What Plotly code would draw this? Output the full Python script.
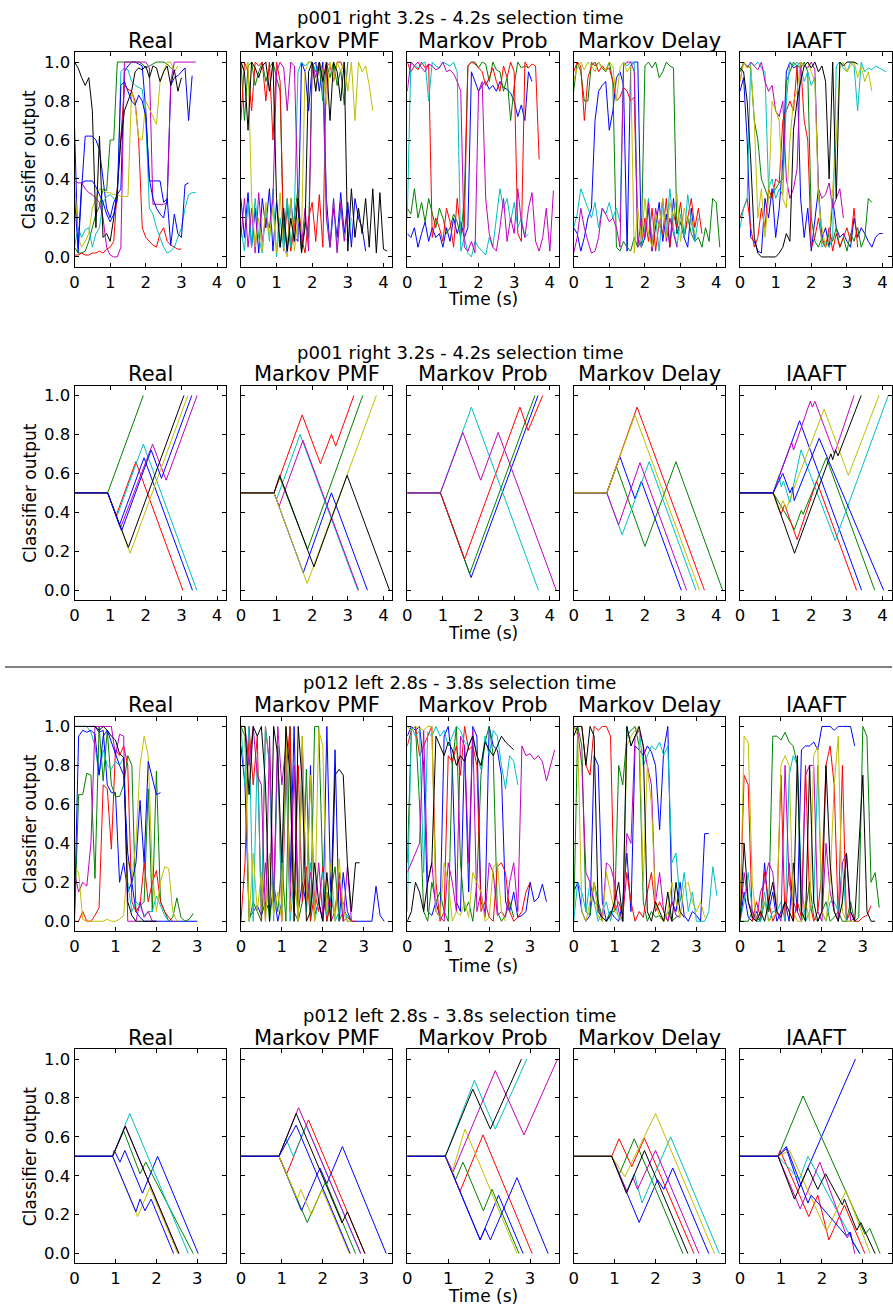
import numpy as np
import plotly.graph_objects as go

W, H = 893, 1306
FONT = "DejaVu Sans"
COLORS = {"b": "#0000ff", "g": "#008000", "r": "#ff0000", "c": "#00bfbf",
          "m": "#bf00bf", "y": "#bfbf00", "k": "#000000"}
COL_TITLES = ["Real", "Markov PMF", "Markov Prob", "Markov Delay", "IAAFT"]
ROW_TITLES = ["p001 right 3.2s - 4.2s selection time",
              "p001 right 3.2s - 4.2s selection time",
              "p012 left 2.8s - 3.8s selection time",
              "p012 left 2.8s - 3.8s selection time"]
X_TICKS = [[0, 1, 2, 3, 4], [0, 1, 2, 3, 4], [0, 1, 2, 3], [0, 1, 2, 3]]
X_MAX = [4.25, 4.25, 3.7, 3.7]
Y_TICKS = [0.0, 0.2, 0.4, 0.6, 0.8, 1.0]
DT = 0.1  # sampling step (s) of the classifier-output series; values in percent

# ---------------- Row 1: p001 classifier output (percent) ----------------
R1_REAL = [
    ("b", [67, 2, 35, 62, 62, 62, 60, 55, 40, 25, 20, 28, 32, 35, 95, 98, 100, 100, 99, 98, 75, 39, 39, 39, 39, 28, 30, 88, 92, 93, 95, 97, 70, 93]),
    ("g", [5, 2, 2, 3, 8, 15, 22, 26, 35, 34, 60, 60, 100, 100, 100, 100, 100, 100, 100, 99, 97, 98, 99, 100, 100, 100, 99, 97, 96]),
    ("r", [1, 1, 2, 1, 1, 2, 2, 3, 2, 4, 5, 8, 35, 62, 88, 86, 85, 80, 60, 15, 10, 8, 6, 5, 12, 15, 8, 6, 5, 4, 4]),
    ("c", [5, 15, 10, 14, 15, 5, 12, 15, 28, 31, 32, 30, 28, 95, 97, 96, 90, 88, 87, 86, 70, 25, 22, 15, 10, 5, 2, 3, 5, 10, 15, 25, 32, 33, 33]),
    ("m", [39, 38, 38, 35, 33, 32, 30, 28, 20, 5, 1, 0, 0, 5, 100, 100, 100, 100, 100, 100, 100, 97, 27, 27, 27, 27, 28, 90, 100, 100, 100, 100, 100, 100, 100]),
    ("y", [40, 10, 5, 8, 12, 25, 30, 35, 34, 33, 33, 32, 32, 31, 31, 31, 85, 78, 61, 60, 80, 76, 72, 68, 90, 95, 100, 100, 95, 98]),
    ("k", [100, 97, 92, 88, 92, 75, 15, 62, 10, 12, 8, 20, 35, 60, 75, 80, 85, 95, 97, 96, 98, 92, 98, 97, 90, 95, 98, 88, 96, 85, 92]),
    ("b", [30, 5, 38, 39, 39, 39, 36, 32, 28, 22, 18, 22, 30, 88, 90, 85, 80, 78, 83, 80, 72, 40, 30, 25, 22, 20, 30, 6, 22, 12, 10, 37, 38]),
]
R1_PMF = [
    ("b", [30, 10, 33, 5, 25, 2, 30, 15, 35, 3, 28, 5, 20, 2, 30, 10, 8, 100, 95, 75, 98, 100, 85, 100, 30, 5, 25, 10, 33, 12, 28, 5, 30, 20, 15, 3]),
    ("g", [100, 70, 98, 100, 88, 95, 100, 90, 97, 100, 92, 85, 8, 30, 5, 20, 35, 3, 18, 10, 100, 95, 98, 80, 100, 92, 100, 88, 96, 78, 100]),
    ("r", [70, 100, 95, 75, 100, 98, 100, 80, 100, 60, 100, 90, 5, 25, 3, 15, 30, 10, 2, 20, 28, 8, 32, 5, 100, 98, 90, 100, 100, 95]),
    ("c", [15, 3, 28, 5, 30, 10, 2, 25, 8, 35, 0, 20, 3, 30, 5, 22, 95, 100, 98, 100, 100, 95, 100, 88, 20, 5, 30, 3, 25, 10, 8, 20]),
    ("m", [10, 30, 5, 25, 2, 33, 8, 20, 15, 30, 95, 100, 97, 75, 100, 98, 30, 5, 25, 3, 100, 92, 100, 96, 20, 5, 30, 2, 28, 8, 25]),
    ("y", [100, 95, 100, 30, 5, 20, 3, 28, 10, 25, 2, 33, 5, 0, 30, 3, 20, 12, 95, 100, 100, 85, 100, 95, 78, 100, 90, 100, 95, 100, 85, 100, 70, 100, 95, 98, 88, 75]),
    ("k", [100, 95, 65, 100, 97, 92, 98, 100, 85, 100, 30, 5, 25, 3, 20, 8, 30, 2, 15, 95, 100, 85, 100, 90, 100, 70, 100, 95, 80, 100, 3, 35, 10, 25, 12, 30, 5, 35, 2, 33, 4, 3]),
]
R1_PROB = [
    ("b", [12, 10, 15, 5, 12, 18, 8, 15, 10, 12, 5, 15, 8, 20, 12, 18, 10, 15, 95, 90, 85, 88, 90, 86, 88, 85, 90, 87, 86, 84, 80, 72, 78, 70, 95, 90]),
    ("g", [25, 22, 35, 20, 28, 18, 30, 22, 15, 25, 20, 12, 15, 22, 18, 10, 30, 98, 100, 100, 97, 100, 99, 90, 100, 96, 95, 85, 92, 70, 88, 100, 97, 98, 97]),
    ("r", [100, 95, 98, 96, 100, 97, 99, 10, 20, 15, 8, 25, 18, 5, 30, 12, 15, 98, 100, 99, 97, 95, 88, 92, 97, 90, 85, 98, 92, 100, 95, 12, 8, 100, 97, 99, 98, 50]),
    ("c", [20, 100, 98, 97, 99, 100, 80, 100, 98, 97, 100, 99, 98, 100, 95, 3, 10, 2, 0, 8, 5, 3, 1, 10, 5, 20, 35, 25, 30, 18, 28, 15, 20, 10, 12]),
    ("m", [85, 100, 98, 100, 97, 95, 99, 98, 96, 97, 100, 95, 96, 94, 90, 85, 5, 3, 8, 2, 85, 90, 30, 12, 5, 3, 15, 30, 8, 20, 12, 35, 18, 10, 25, 33, 8, 3, 10, 25, 3, 34]),
]
R1_DELAY = [
    ("b", [15, 12, 3, 10, 20, 25, 70, 85, 88, 90, 65, 75, 92, 95, 88, 3, 98, 100, 100, 5, 10, 25, 3, 15, 28, 8, 22, 5, 30, 12, 18, 10, 5, 25, 8]),
    ("g", [85, 100, 95, 80, 80, 100, 98, 100, 97, 95, 100, 90, 5, 3, 8, 5, 3, 10, 5, 8, 98, 100, 97, 100, 92, 95, 100, 98, 97, 12, 18, 10, 20, 12, 8, 10, 5, 15, 8, 30, 28, 5]),
    ("r", [95, 100, 98, 70, 92, 98, 100, 95, 98, 96, 97, 90, 80, 82, 87, 85, 80, 82, 10, 5, 20, 8, 25, 3, 18, 12, 30, 5, 22, 15, 28, 10, 20, 30, 15, 25, 12]),
    ("c", [15, 22, 35, 30, 25, 20, 28, 15, 25, 22, 28, 20, 25, 18, 100, 98, 100, 100, 10, 5, 15, 30, 8, 20, 3, 28, 12, 35, 15, 5, 22, 10, 32, 18, 8, 20]),
    ("m", [2, 10, 25, 15, 8, 2, 3, 10, 25, 22, 18, 20, 15, 5, 98, 100, 100, 95, 5, 20, 10, 28, 3, 25, 15, 30, 8, 20, 12, 5]),
    ("y", [90, 97, 100, 96, 100, 98, 95, 100, 97, 96, 100, 98, 80, 97, 100, 95, 98, 2, 25, 8, 30, 12, 5, 22, 15, 30, 10, 28, 20, 32, 8, 25, 18, 20, 12]),
]
R1_IAAFT = [
    ("b", [85, 92, 60, 10, 8, 3, 2, 30, 20, 35, 10, 25, 50, 95, 100, 97, 98, 30, 10, 25, 3, 20, 35, 10, 15, 5, 30, 15, 10, 12, 8, 5, 20, 10, 15, 12, 8, 5, 10, 12, 12]),
    ("g", [95, 100, 98, 97, 70, 60, 40, 35, 30, 32, 35, 38, 40, 90, 95, 100, 98, 97, 100, 95, 20, 8, 5, 10, 5, 12, 8, 15, 5, 10, 3, 12, 8, 15, 5, 10, 30, 28]),
    ("r", [20, 25, 30, 15, 5, 10, 25, 15, 35, 30, 40, 38, 70, 75, 80, 75, 98, 100, 70, 60, 5, 10, 20, 8, 5, 15, 3, 12, 5, 10, 15, 8, 25, 5]),
    ("c", [15, 25, 30, 100, 98, 100, 97, 95, 35, 40, 30, 35, 32, 80, 100, 98, 100, 97, 90, 95, 88, 92, 35, 5, 8, 5, 10, 98, 100, 97, 95, 100, 98, 75, 100, 95, 97, 96, 98, 97, 96, 95]),
    ("m", [90, 100, 97, 100, 98, 96, 100, 90, 85, 88, 75, 72, 80, 40, 30, 35, 45, 100, 98, 97, 100, 96, 35, 30, 32, 38, 25, 30, 35, 20]),
    ("y", [90, 100, 97, 98, 70, 20, 35, 10, 30, 80, 75, 70, 30, 25, 60, 80, 85, 100, 98, 100, 95, 90, 30, 15, 5, 8, 35, 60, 97, 100, 95, 98, 100, 92, 98, 90, 95, 85]),
    ("k", [97, 95, 80, 50, 10, 2, 0, 0, 0, 0, 0, 2, 5, 12, 8, 65, 80, 90, 98, 100, 97, 100, 95, 98, 90, 40, 100, 30, 100, 98, 100, 100, 100, 99]),
]

# ---------------- Row 3: p012 classifier output (percent) ----------------
R3_REAL = [
    ("b", [100, 100, 100, 100, 100, 100, 97, 98, 70, 66, 66, 20, 30, 15, 20, 5, 2, 0, 0, 0, 0, 0, 0, 0, 0, 0, 0, 0, 0, 0, 0]),
    ("g", [0, 65, 65, 76, 75, 22, 100, 72, 98, 70, 64, 64, 70, 85, 80, 5, 8, 10, 68, 5, 77, 10, 5, 0, 2, 12, 2, 0, 1, 4]),
    ("r", [0, 0, 5, 0, 0, 3, 7, 70, 68, 37, 88, 85, 90, 80, 10, 5, 8, 30, 10, 20, 26, 10, 5, 2, 0]),
    ("c", [100, 100, 100, 100, 97, 90, 75, 88, 80, 78, 82, 80, 84, 20, 5, 10, 8, 3, 5, 5, 13, 8, 3, 0]),
    ("m", [25, 15, 20, 18, 40, 100, 100, 100, 100, 100, 85, 96, 95, 0, 0, 0, 10, 2, 5, 0, 0]),
    ("y", [28, 25, 1, 0, 0, 0, 0, 0, 1, 0, 0, 1, 3, 32, 22, 40, 80, 95, 85, 25, 5, 20, 28, 27, 5, 0]),
    ("k", [100, 100, 100, 100, 100, 100, 98, 100, 98, 95, 93, 86, 84, 10, 3, 0, 0, 0, 0, 0, 0]),
    ("b", [5, 95, 98, 97, 98, 96, 75, 95, 98, 92, 85, 80, 75, 35, 20, 30, 62, 30, 82, 73, 65, 66]),
]
R3_PMF = [
    ("b", [90, 70, 2, 5, 8, 3, 10, 5, 15, 0, 10, 95, 20, 100, 5, 20, 8, 80, 3, 10, 0, 100, 10, 88, 0, 25, 5, 0, 0, 0, 0, 0, 0, 18, 3, 0]),
    ("g", [100, 95, 0, 10, 5, 0, 30, 0, 20, 5, 30, 0, 100, 5, 0, 10, 78, 0, 100, 100, 25, 0, 15, 28, 0, 5, 3, 0]),
    ("r", [0, 30, 100, 70, 95, 0, 100, 80, 5, 90, 0, 75, 100, 5, 80, 10, 28, 0, 15, 5, 28, 0, 10, 5, 20, 0, 2, 0, 0]),
    ("c", [100, 70, 100, 0, 85, 5, 100, 80, 0, 90, 5, 85, 0, 20, 5, 95, 5, 30, 0, 10, 25, 3, 15, 0, 5, 10, 0, 0]),
    ("m", [100, 100, 80, 100, 75, 70, 0, 95, 10, 100, 70, 90, 5, 80, 0, 90, 10, 25, 5, 30, 3, 15, 0, 5, 25, 0, 28, 0]),
    ("y", [100, 100, 0, 35, 5, 25, 0, 35, 3, 15, 0, 100, 5, 30, 0, 95, 10, 75, 0, 98, 90, 5, 30, 0, 32, 5, 0, 0]),
    ("k", [100, 100, 65, 100, 95, 100, 70, 0, 100, 85, 30, 100, 75, 0, 100, 70, 0, 5, 30, 10, 0, 25, 0, 75, 78, 75, 30, 5, 30, 30]),
]
R3_PROB = [
    ("b", [95, 100, 98, 100, 80, 5, 3, 10, 2, 95, 100, 80, 10, 5, 90, 15, 100, 95, 10, 5, 100, 90, 88, 75, 10, 5, 15, 2, 3, 5, 20, 10, 12, 19, 10]),
    ("g", [30, 98, 100, 60, 5, 0, 20, 10, 15, 5, 0, 80, 100, 30, 5, 10, 0, 20, 75, 92, 100, 85, 5, 0, 3, 10, 2]),
    ("r", [90, 98, 100, 85, 90, 95, 100, 20, 0, 5, 85, 82, 90, 75, 100, 88, 90, 80, 5, 10, 2, 0, 28, 30, 25, 5, 0, 2, 5, 15, 20]),
    ("c", [5, 100, 95, 98, 25, 97, 95, 100, 95, 98, 90, 95, 100, 98, 92, 90, 96, 85, 78, 95, 85, 98, 95, 80, 68, 85, 82, 70]),
    ("m", [25, 30, 35, 40, 98, 20, 30, 5, 2, 0, 30, 20, 5, 95, 90, 30, 98, 5, 15, 2, 30, 25, 3, 5, 2, 20, 30, 5, 90, 85, 86, 83, 85, 82, 72, 80, 88]),
    ("y", [100, 98, 100, 99, 98, 100, 100, 5, 2, 30, 20, 0, 5, 3, 10, 2, 25, 20, 15, 0, 2, 28, 30, 5, 0]),
    ("k", [0, 5, 20, 15, 5, 20, 30, 95, 90, 85, 92, 88, 80, 85, 82, 90, 95, 85, 80, 92, 88, 85, 90, 95, 92, 90, 88]),
]
R3_DELAY = [
    ("b", [15, 20, 5, 0, 3, 85, 80, 10, 0, 5, 2, 0, 10, 35, 5, 90, 88, 85, 90, 87, 80, 47, 88, 100, 10, 5, 20, 3, 0, 5, 3, 0, 45, 45]),
    ("g", [0, 100, 90, 5, 3, 20, 10, 2, 0, 5, 5, 80, 70, 95, 98, 100, 90, 10, 0, 5, 2, 3, 0, 5, 0, 2, 3]),
    ("r", [100, 100, 100, 80, 75, 100, 98, 100, 100, 95, 5, 10, 3, 25, 10, 0, 5, 2, 15, 25, 5, 10, 5, 0, 10]),
    ("c", [0, 20, 15, 5, 20, 10, 0, 5, 10, 0, 10, 2, 0, 100, 90, 95, 98, 80, 85, 90, 88, 92, 85, 90, 30, 35, 10, 25, 5, 15, 0, 0, 0, 5, 28, 13]),
    ("m", [100, 98, 80, 25, 20, 10, 8, 0, 30, 28, 20, 5, 0, 45, 40, 95, 98, 90, 80, 70, 10, 25, 5, 0, 10, 3, 2]),
    ("y", [100, 95, 5, 0, 10, 20, 2, 0, 25, 15, 5, 3, 0, 90, 95, 98, 100, 20, 80, 60, 10, 2, 0, 5, 20, 10, 2, 18, 20, 10, 5, 10, 2]),
    ("k", [95, 100, 100, 80, 100, 95, 5, 2, 0, 3, 10, 20, 0, 100, 90, 95, 100, 90, 5, 0, 10, 5, 0, 15, 0, 20, 5, 2]),
]
R3_IAAFT = [
    ("b", [0, 15, 2, 0, 5, 0, 30, 5, 15, 0, 5, 10, 0, 30, 5, 88, 90, 90, 92, 88, 100, 100, 100, 98, 100, 100, 100, 100, 90]),
    ("g", [0, 0, 0, 5, 2, 0, 10, 5, 95, 95, 93, 97, 92, 90, 80, 0, 5, 20, 2, 0, 5, 10, 0, 2, 5, 0, 0, 10, 0, 2, 100, 95, 20, 25, 7]),
    ("r", [5, 75, 70, 0, 10, 2, 25, 10, 0, 5, 75, 0, 30, 0, 10, 2, 80, 10, 0, 5, 25, 80, 90, 70, 0, 80, 0, 5, 0, 0, 2, 3, 8]),
    ("c", [0, 10, 25, 5, 0, 0, 15, 0, 5, 5, 10, 0, 75, 85, 80, 20, 0, 5, 10, 80, 5, 0, 10, 10, 5, 30, 0, 0]),
    ("m", [0, 25, 10, 5, 0, 15, 20, 30, 25, 5, 0, 80, 20, 10, 5, 0, 75, 80, 80, 5, 0, 40, 15, 5, 0, 30, 35, 0, 2]),
    ("y", [0, 95, 92, 20, 0, 5, 10, 0, 2, 5, 80, 85, 80, 5, 0, 0, 10, 0, 85, 90, 5, 0, 20, 70, 95, 5, 0, 0, 0]),
    ("k", [0, 40, 10, 2, 0, 5, 0, 10, 20, 5, 2, 10, 5, 0, 85, 5, 0, 80, 10, 0, 5, 80, 30, 5, 0, 10, 35, 5, 0, 40, 75, 5, 0, 0]),
]

# ---------------- Row 2: p001 random-walk outputs (vertex times s, values) ----------------
R2_REAL = [
    ("b", [0, .93, 1.26, 1.95, 3.31], [.5, .5, .335, .68, 0]),
    ("g", [0, .93, 1.93], [.5, .5, 1.0]),
    ("r", [0, .93, 1.17, 1.72, 3.04], [.5, .5, .385, .66, 0]),
    ("c", [0, .93, 1.18, 1.93, 3.43], [.5, .5, .375, .75, 0]),
    ("m", [0, .93, 1.29, 2.19, 2.57, 3.44], [.5, .5, .32, .75, .565, 1.0]),
    ("y", [0, .93, 1.56, 3.18], [.5, .5, .19, 1.0]),
    ("k", [0, .93, 1.51, 3.07], [.5, .5, .22, 1.0]),
    ("b", [0, .93, 1.32, 2.15, 2.44, 3.29], [.5, .5, .305, .72, .575, 1.0]),
]
R2_PMF = [
    ("b", [0, .93, 1.75, 2.54, 3.55], [.5, .5, .09, .5, 0]),
    ("g", [0, .93, 1.09, 1.87, 3.42], [.5, .5, .58, .21, 1.0]),
    ("r", [0, .93, 1.72, 2.23, 2.54, 2.66, 3.17], [.5, .5, .9, .65, .8, .74, 1.0]),
    ("c", [0, .93, 1.0, 1.66, 3.28], [.5, .5, .465, .8, 0]),
    ("m", [0, .93, 1.07, 1.74, 3.30], [.5, .5, .43, .77, 0]),
    ("y", [0, .93, 1.86, 3.8], [.5, .5, .035, 1.0]),
    ("k", [0, .93, 1.09, 2.05, 2.98, 4.17], [.5, .5, .59, .12, .59, 0]),
]
R2_PROB = [
    ("b", [0, .93, 1.79, 3.67], [.5, .5, .065, 1.0]),
    ("g", [0, .93, 1.75, 3.58], [.5, .5, .085, 1.0]),
    ("r", [0, .93, 1.61, 3.16, 3.39, 3.8], [.5, .5, .16, .94, .82, 1.0]),
    ("c", [0, .93, 1.8, 3.68], [.5, .5, .94, 0]),
    ("m", [0, .93, 1.56, 2.06, 2.55, 4.18], [.5, .5, .81, .565, .81, 0]),
]
R2_DELAY = [
    ("b", [0, .93, 1.3, 1.72, 1.9, 3.02], [.5, .5, .685, .47, .56, 0]),
    ("g", [0, .93, 1.2, 2.0, 2.87, 4.18], [.5, .5, .635, .225, .66, 0]),
    ("r", [0, .93, 1.78, 3.67], [.5, .5, .94, 0]),
    ("c", [0, .93, 1.36, 2.12, 3.43], [.5, .5, .285, .66, 0]),
    ("m", [0, .93, 1.26, 1.86, 3.17], [.5, .5, .335, .655, 0]),
    ("y", [0, .93, 1.72, 3.53], [.5, .5, .9, 0]),
]
R2_IAAFT = [
    ("b", [0, .93, 1.67, 3.41], [.5, .5, .87, 0]),
    ("g", [0, .93, 1.45, 1.52, 1.58, 1.72, 1.77, 2.42, 3.78], [.5, .5, .34, .31, .34, .41, .39, .68, 0]),
    ("r", [0, .93, 1.15, 1.25, 1.6, 2.15, 3.27], [.5, .5, .39, .44, .26, .56, 0]),
    ("c", [0, .93, 1.09, 1.16, 1.22, 1.4, 1.71, 2.67, 4.16], [.5, .5, .59, .53, .56, .45, .72, .255, 1.0]),
    ("m", [0, .93, 1.45, 1.5, 1.97, 2.03, 2.1, 2.65, 3.2], [.5, .5, .76, .72, .97, .94, .97, .7, 1.0]),
    ("y", [0, .93, 1.1, 1.2, 1.3, 2.36, 3.04, 3.9], [.5, .5, .41, .46, .42, .93, .59, 1.0]),
    ("k", [0, .93, 1.53, 2.55, 2.6, 2.68, 2.75, 3.4], [.5, .5, .19, .7, .67, .72, .69, 1.0]),
    ("b", [0, .93, 1.2, 1.4, 1.47, 1.52, 2.22, 4.03], [.5, .5, .6, .5, .53, .46, .78, 0]),
]

# ---------------- Row 4: p012 random-walk outputs (vertex times s, values) ----------------
R4_REAL = [
    ("b", [0, .93, .97, 1.11, 1.23, 1.66, 2.03, 3.02], [.5, .5, .53, .47, .53, .31, .5, 0]),
    ("g", [0, .93, 1.2, 1.6, 1.74, 2.9], [.5, .5, .63, .41, .47, 0]),
    ("c", [0, .93, 1.35, 2.78], [.5, .5, .72, 0]),
    ("m", [0, .93, 1.24, 2.55], [.5, .5, .655, 0]),
    ("y", [0, .93, 1.54, 1.84, 2.52], [.5, .5, .19, .34, 0]),
    ("k", [0, .93, 1.24, 2.55], [.5, .5, .655, 0]),
    ("b", [0, .93, 1.5, 1.6, 1.72, 1.87, 2.42], [.5, .5, .215, .28, .22, .28, 0]),
]
R4_PMF = [
    ("b", [0, .93, 1.48, 1.93, 2.1, 2.48, 3.55], [.5, .5, .22, .44, .36, .55, 0]),
    ("g", [0, .93, 1.62, 2.07, 2.8], [.5, .5, .16, .37, 0]),
    ("r", [0, .93, 1.12, 1.65, 3.03], [.5, .5, .41, .687, 0]),
    ("c", [0, .93, 1.1, 1.28, 1.6, 2.92], [.5, .5, .59, .5, .66, 0]),
    ("m", [0, .93, 1.41, 2.93], [.5, .5, .75, 0]),
    ("y", [0, .93, 1.38, 1.46, 1.72, 1.98, 2.65], [.5, .5, .28, .33, .2, .33, 0]),
    ("k", [0, .93, 1.35, 2.47, 2.6, 3.03], [.5, .5, .72, .158, .215, 0]),
    ("b", [0, .93, 1.35, 2.67], [.5, .5, .66, 0]),
]
R4_PROB = [
    ("b", [0, .93, 1.78, 2.23, 2.83], [.5, .5, .07, .3, 0]),
    ("g", [0, .93, 1.18, 1.36, 1.86, 2.07, 2.73], [.5, .5, .38, .47, .22, .33, 0]),
    ("r", [0, .93, 1.29, 1.85, 3.05], [.5, .5, .32, .61, 0]),
    ("c", [0, .93, 1.64, 2.15, 2.92], [.5, .5, .89, .64, 1.0]),
    ("m", [0, .93, 1.12, 2.15, 2.85, 3.67], [.5, .5, .42, .94, .61, 1.0]),
    ("y", [0, .93, 1.1, 1.41, 2.68], [.5, .5, .42, .64, 0]),
    ("k", [0, .93, 1.6, 2.03, 2.79], [.5, .5, .845, .64, 1.0]),
    ("b", [0, .93, 1.78, 1.9, 2.03, 2.68, 3.44], [.5, .5, .07, .13, .07, .39, 0]),
]
R4_DELAY = [
    ("b", [0, .93, 1.6, 2.05, 2.2, 2.42, 3.3], [.5, .5, .16, .38, .33, .44, 0]),
    ("g", [0, .93, 1.12, 1.48, 2.67], [.5, .5, .41, .59, 0]),
    ("r", [0, .93, 1.11, 1.42, 1.73, 2.94], [.5, .5, .59, .447, .593, 0]),
    ("c", [0, .93, 1.3, 1.48, 1.67, 2.37, 3.56], [.5, .5, .32, .41, .26, .6, 0]),
    ("m", [0, .93, 1.3, 1.45, 1.56, 2.0, 3.06], [.5, .5, .32, .39, .33, .53, 0]),
    ("y", [0, .93, 1.25, 2.0, 3.44], [.5, .5, .395, .72, 0]),
    ("k", [0, .93, 1.29, 1.73, 2.79], [.5, .5, .31, .53, 0]),
]
R4_IAAFT = [
    ("b", [0, .93, 1.13, 1.45, 2.82], [.5, .5, .54, .34, 1.0]),
    ("g", [0, .93, 1.54, 3.05, 3.17, 3.42], [.5, .5, .81, .1, .13, 0]),
    ("r", [0, .93, .98, 1.68, 1.9, 2.17, 2.55, 3.05], [.5, .5, .53, .19, .3, .07, .25, 0]),
    ("c", [0, .93, 1.45, 1.66, 2.92], [.5, .5, .38, .5, 0]),
    ("m", [0, .93, 1.47, 1.95, 2.62, 2.7, 2.8], [.5, .5, .23, .47, .08, .11, 0]),
    ("y", [0, .93, 1.21, 2.11, 2.59, 3.18], [.5, .5, .53, .115, .323, 0]),
    ("k", [0, .93, 1.33, 1.66, 1.9, 2.09, 2.5, 2.55, 2.85, 2.95, 3.3], [.5, .5, .28, .44, .33, .41, .25, .28, .12, .16, 0]),
    ("b", [0, .93, 1.13, 1.66, 1.74, 2.6, 2.68, 2.75, 2.93], [.5, .5, .55, .26, .3, .09, .11, .06, 0]),
]

NOISY_ROWS = {0: [R1_REAL, R1_PMF, R1_PROB, R1_DELAY, R1_IAAFT],
              2: [R3_REAL, R3_PMF, R3_PROB, R3_DELAY, R3_IAAFT]}
WALK_ROWS = {1: [R2_REAL, R2_PMF, R2_PROB, R2_DELAY, R2_IAAFT],
             3: [R4_REAL, R4_PMF, R4_PROB, R4_DELAY, R4_IAAFT]}

# ---------------- layout geometry (pixels) ----------------
COL_LEFT = [70, 237.5, 405, 572.5, 740]
COL_W = 152.5
ROW_SPAN = [(52.3, 266.7), (385.7, 600.0), (716.7, 931.0), (1049.3, 1263.3)]
SUPTITLE_Y = [18, 352, 682, 1015]
SUBTITLE_Y = [41, 374, 705, 1038]
XLABEL_Y = [299, 633, 966, 1296]
SEPARATOR_Y = 667


def px_x(v):
    return v / W


def px_y(v):
    return 1 - v / H


fig = go.Figure()
annotations = []
layout_axes = {}

for row in range(4):
    for col in range(5):
        n = row * 5 + col + 1
        xa = "x" if n == 1 else f"x{n}"
        ya = "y" if n == 1 else f"y{n}"
        if row in NOISY_ROWS:
            for ck, vals in NOISY_ROWS[row][col]:
                t = np.arange(len(vals)) * DT
                fig.add_trace(go.Scatter(x=t, y=np.array(vals) / 100.0, mode="lines",
                                         line=dict(color=COLORS[ck], width=1),
                                         xaxis=xa, yaxis=ya, showlegend=False, hoverinfo="skip"))
        else:
            for ck, ts, vs in WALK_ROWS[row][col]:
                fig.add_trace(go.Scatter(x=ts, y=vs, mode="lines",
                                         line=dict(color=COLORS[ck], width=1),
                                         xaxis=xa, yaxis=ya, showlegend=False, hoverinfo="skip"))
        top, bot = ROW_SPAN[row]
        left = COL_LEFT[col]
        axfont = dict(family=FONT, size=16.5, color="black")
        layout_axes["xaxis" if n == 1 else f"xaxis{n}"] = dict(
            domain=[px_x(left), px_x(left + COL_W)], anchor=ya,
            range=[0, X_MAX[row]], tickvals=X_TICKS[row], ticktext=[str(v) for v in X_TICKS[row]],
            ticks="inside", ticklen=4, tickcolor="black", showline=True, linecolor="black",
            linewidth=1, mirror="ticks", showgrid=False, zeroline=False, tickfont=axfont)
        layout_axes["yaxis" if n == 1 else f"yaxis{n}"] = dict(
            domain=[px_y(bot), px_y(top)], anchor=xa,
            range=[-0.05, 1.05], tickvals=Y_TICKS,
            ticktext=[f"{v:.1f}" for v in Y_TICKS] if col == 0 else [""] * len(Y_TICKS),
            ticks="inside", ticklen=4, tickcolor="black", showline=True, linecolor="black",
            linewidth=1, mirror="ticks", showgrid=False, zeroline=False, tickfont=axfont)
        annotations.append(dict(text=COL_TITLES[col], x=px_x(left + COL_W / 2), y=px_y(SUBTITLE_Y[row]),
                                xref="paper", yref="paper", xanchor="center", yanchor="middle",
                                showarrow=False, font=dict(family=FONT, size=21, color="black")))
    annotations.append(dict(text=ROW_TITLES[row], x=px_x(458), y=px_y(SUPTITLE_Y[row]),
                            xref="paper", yref="paper", xanchor="center", yanchor="middle",
                            showarrow=False, font=dict(family=FONT, size=18, color="black")))
    annotations.append(dict(text="Time (s)", x=px_x(COL_LEFT[2] + COL_W / 2), y=px_y(XLABEL_Y[row]),
                            xref="paper", yref="paper", xanchor="center", yanchor="middle",
                            showarrow=False, font=dict(family=FONT, size=17, color="black")))
    top, bot = ROW_SPAN[row]
    annotations.append(dict(text="Classifier output", x=px_x(25), y=px_y((top + bot) / 2),
                            xref="paper", yref="paper", xanchor="center", yanchor="middle",
                            textangle=-90, showarrow=False,
                            font=dict(family=FONT, size=17, color="black")))

fig.update_layout(
    width=W, height=H, margin=dict(l=0, r=0, t=0, b=0),
    paper_bgcolor="white", plot_bgcolor="white", showlegend=False,
    annotations=annotations,
    shapes=[dict(type="line", xref="paper", yref="paper", x0=0, x1=1,
                 y0=px_y(SEPARATOR_Y), y1=px_y(SEPARATOR_Y), line=dict(color="black", width=1))],
    **layout_axes)

fig.write_html("out.html")
